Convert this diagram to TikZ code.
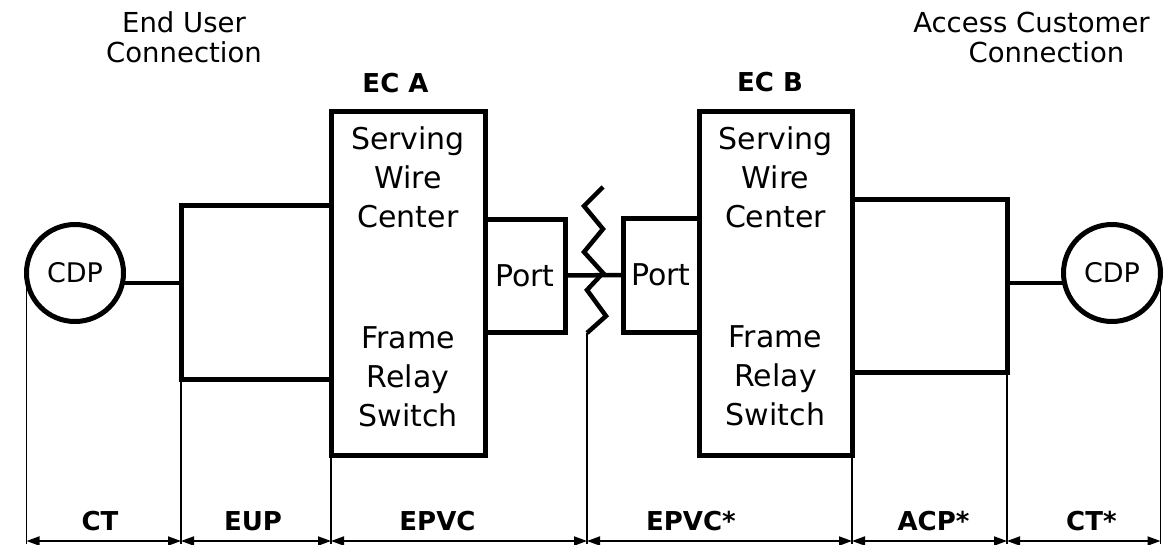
\documentclass[tikz,border=0pt]{standalone}
\usepackage{fontspec}
\setmainfont{DejaVu Sans}
\usetikzlibrary{arrows.meta}

\begin{document}
\begin{tikzpicture}[
    x=1pt, y=-1pt,
    box/.style={draw, rectangle, line width=5pt, inner sep=0pt, outer sep=0pt,
        font=\fontsize{30}{39}\selectfont},
    cdp/.style={draw, circle, line width=5pt, minimum size=97pt, inner sep=0pt,
        outer sep=0pt, font=\fontsize{27}{30}\selectfont},
    txt/.style={align=center, anchor=base, font=\fontsize{30}{39}\selectfont},
    head/.style={align=center, anchor=base, font=\fontsize{27.5}{30}\selectfont},
    ec/.style={anchor=base, font=\bfseries\fontsize{26}{30}\selectfont},
    wire/.style={line width=4.5pt},
    ext/.style={line width=1.8pt},
    dim/.style={line width=1.8pt,
        {Triangle[length=13pt,width=9pt]}-{Triangle[length=13pt,width=9pt]}},
    lbl/.style={anchor=base, yshift=11pt, font=\bfseries\fontsize{26}{30}\selectfont},
]
    \useasboundingbox (0,0) rectangle (1165,544);

    % headings (base = last line)
    \node[head] (euc) at (184,62) {End User\\Connection};
    \node[head] (acc) at (1031.5,32) {Access Customer};
    \node[head] (accc) at (1046.5,62) {Connection};
    \node[ec] (ecAlbl) at (395.5,92) {EC A};
    \node[ec] (ecBlbl) at (770,91) {EC B};

    % boxes
    \node[box, minimum width=150pt, minimum height=174pt] (eup) at (256,292) {};
    \node[box, minimum width=154pt, minimum height=344pt] (ecA) at (408,283.5) {};
    \node[box, minimum width=80pt, minimum height=113pt] (portA) at (525,275.5) {Port};
    \node[box, minimum width=76pt, minimum height=114pt] (portB) at (661,275) {Port};
    \node[box, minimum width=153pt, minimum height=344pt] (ecB) at (775.5,283) {};
    \node[box, minimum width=155pt, minimum height=173pt] (acp) at (929.5,285.5) {};

    \node[txt] (swcA) at (408,227) {Serving\\Wire\\Center};
    \node[txt] (frsA) at (408,426) {Frame\\Relay\\Switch};
    \node[txt] (swcB) at (775.5,227) {Serving\\Wire\\Center};
    \node[txt] (frsB) at (775.5,425) {Frame\\Relay\\Switch};

    \node[cdp] (cdpL) at (75,273) {CDP};
    \node[cdp] (cdpR) at (1112,273) {CDP};

    % links
    \draw[wire] (cdpL.-12) -- (cdpL.-12 -| eup.west);
    \draw[wire] (acp.east |- cdpR.192) -- (cdpR.192);
    \draw[wire] (portA.east) -- (portB.west);
    \draw[wire, line join=miter] (603,187) -- (584,206) -- (603,229) -- (584,252)
        -- (603,273) -- (587,290) -- (606,316) -- (587,333) coordinate (zz);

    % extension lines
    \coordinate (bot) at (0,544);
    \foreach \p in {cdpL.west, eup.south west, ecA.south west, zz,
                    ecB.south east, acp.south east, cdpR.east}
        \draw[ext] (\p) -- (\p |- bot);

    % dimensions
    \coordinate (dl) at (0,541);
    \draw[dim] (cdpL.west |- dl) -- node[lbl, pos=0.476] {CT} (eup.south west |- dl);
    \draw[dim] (eup.south west |- dl) -- node[lbl, pos=0.48] {EUP} (ecA.south west |- dl);
    \draw[dim] (ecA.south west |- dl) -- node[lbl, pos=0.416] {EPVC} (zz |- dl);
    \draw[dim] (zz |- dl) -- node[lbl, pos=0.392] {EPVC*} (ecB.south east |- dl);
    \draw[dim] (ecB.south east |- dl) -- node[lbl, pos=0.526] {ACP*} (acp.south east |- dl);
    \draw[dim] (acp.south east |- dl) -- node[lbl, pos=0.55] {CT*} (cdpR.east |- dl);
\end{tikzpicture}
\end{document}
